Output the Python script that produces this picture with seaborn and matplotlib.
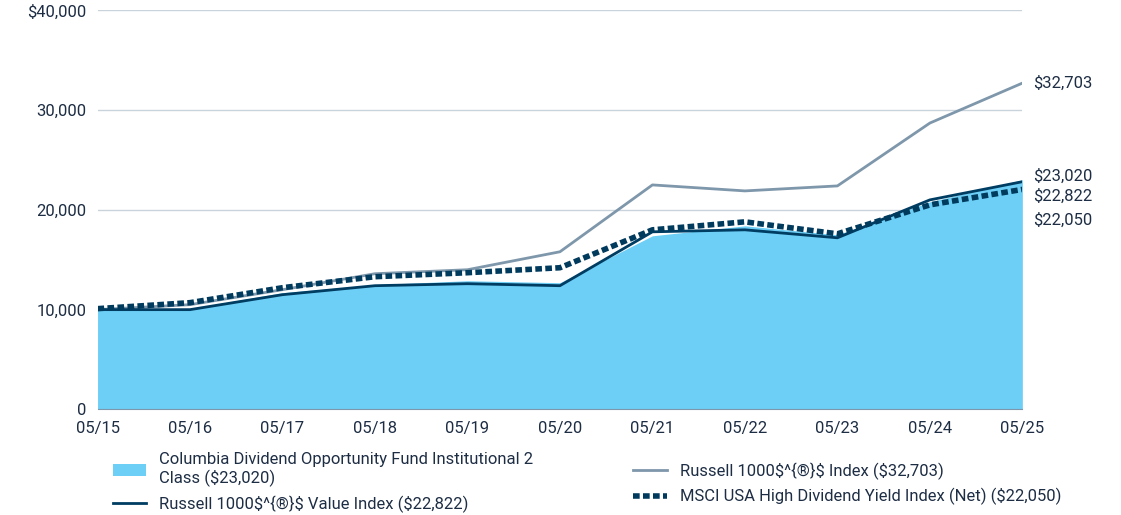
import numpy as np
import pandas as pd
import seaborn as sns
import matplotlib.pyplot as plt

dates = ['05/15', '05/16', '05/17', '05/18', '05/19', '05/20', '05/21', '05/22', '05/23', '05/24', '05/25']
fund = [10000, 10100, 11700, 12500, 12900, 12700, 17400, 18400, 17500, 20800, 23020]
r1000_value = [10000, 10000, 11500, 12400, 12600, 12400, 17800, 18000, 17200, 21000, 22822]
r1000 = [10000, 10500, 12000, 13600, 14000, 15800, 22500, 21900, 22400, 28700, 32703]
msci = [10100, 10700, 12200, 13300, 13700, 14200, 18000, 18800, 17600, 20500, 22050]

x = np.arange(len(dates))
df = pd.DataFrame({'x': x, 'fund': fund, 'value': r1000_value, 'r1000': r1000, 'msci': msci})

plt.rcParams['font.family'] = 'Roboto'
fig = plt.figure(figsize=(11.21, 5.15), dpi=100)
ax = fig.add_axes([0.087, 0.205, 0.825, 0.775])

ax.fill_between(df['x'], df['fund'], color='#6dcff6', lw=0,
                label='Columbia Dividend Opportunity Fund Institutional 2\nClass ($23,020)')
sns.lineplot(data=df, x='x', y='r1000', ax=ax, color='#7f97ab', lw=2, label='Russell 1000$^{®}$ Index ($32,703)')
sns.lineplot(data=df, x='x', y='value', ax=ax, color='#003d63', lw=2, label='Russell 1000$^{®}$ Value Index ($22,822)')
sns.lineplot(data=df, x='x', y='msci', ax=ax, color='#003a5d', lw=4, ls=(0, (1.2, 0.6)),
             label='MSCI USA High Dividend Yield Index (Net) ($22,050)')

ax.set_xlim(0, 10)
ax.set_ylim(0, 40000)
ax.set_yticks([0, 10000, 20000, 30000, 40000])
ax.set_yticklabels(['0', '10,000', '20,000', '30,000', '$40,000'])
ax.set_xticks(x)
ax.set_xticklabels(dates)
ax.set_xlabel('')
ax.set_ylabel('')
ax.grid(axis='y', color='#c8d3dc', lw=1)
ax.set_axisbelow(True)
for s in ['top', 'right', 'left']:
    ax.spines[s].set_visible(False)
ax.spines['bottom'].set_color('#7f97ab')
ax.tick_params(length=0, labelsize=12, colors='#1d2d44', pad=8)

for val, txt, dy in [(32703, '$32,703', 0), (23020, '$23,020', 300), (22822, '$22,822', -1500), (22050, '$22,050', -3100)]:
    ax.text(10.12, val + dy, txt, va='center', fontsize=12, color='#1d2d44', clip_on=False)

h, l = ax.get_legend_handles_labels()
order = [0, 2, 1, 3]
ax.legend([h[i] for i in order], [l[i] for i in order], loc='upper left', bbox_to_anchor=(0.0, -0.07),
          ncol=2, frameon=False, fontsize=12, labelcolor='#1d2d44', columnspacing=6, handlelength=2)
fig.savefig('out.png', dpi=100)
